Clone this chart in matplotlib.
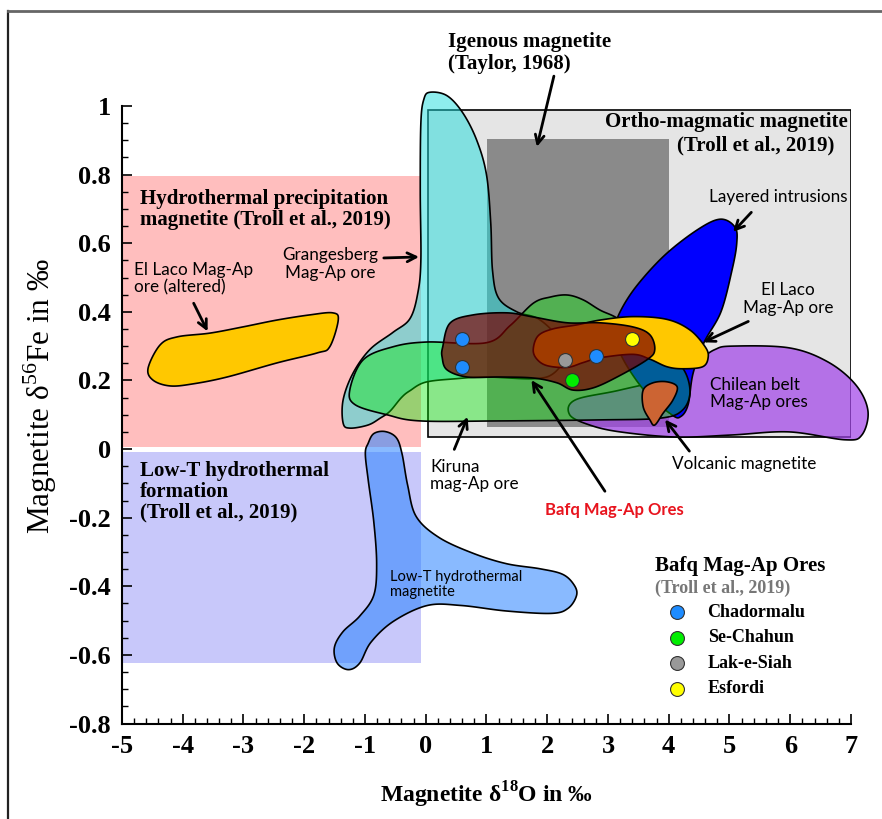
import numpy as np
import matplotlib
matplotlib.use("Agg")
import matplotlib.pyplot as plt
from matplotlib.patches import Polygon, Rectangle
from matplotlib.lines import Line2D
from matplotlib.ticker import MultipleLocator, FuncFormatter
from matplotlib.colors import to_rgba

plt.rcParams['font.family'] = 'Liberation Serif'
plt.rcParams['axes.unicode_minus'] = False
plt.rcParams['mathtext.fontset'] = 'custom'
plt.rcParams['mathtext.rm'] = 'Liberation Serif'
plt.rcParams['mathtext.bf'] = 'Liberation Serif:bold'

SANS = 'Lato'

# reference boxes (x0, y0, x1, y1) in d18O / d56Fe
hydro_box = [-5.0, 0.007, -0.085, 0.797]
lowt_box = [-5.0, -0.624, -0.085, -0.010]
ortho_box = [0.04, 0.035, 7.0, 0.989]
igneous_box = [1.01, 0.063, 4.01, 0.904]

# field outlines
grangesberg_x = [0.07, -0.03, -0.08, -0.09, -0.08, -0.13, -0.26, -0.54, -0.92, -1.20, -1.36, -1.36, -1.25,
                 -0.95, -0.75, -0.59, -0.40, -0.26, 0.0, 0.5, 1.0, 1.77, 2.10, 2.28, 2.15, 1.85, 1.50, 1.20,
                 1.10, 1.07, 1.00, 0.84, 0.61, 0.35]
grangesberg_y = [1.04, 1.02, 0.95, 0.75, 0.55, 0.455, 0.38, 0.34, 0.29, 0.22, 0.143, 0.076, 0.061,
                 0.07, 0.09, 0.11, 0.15, 0.17, 0.195, 0.205, 0.21, 0.205, 0.22, 0.27, 0.33, 0.38, 0.40, 0.44,
                 0.52, 0.66, 0.80, 0.90, 0.98, 1.03]

kiruna_x = [-1.25, -1.03, -0.54, 0.02, 1.0, 1.39, 1.77, 2.05, 2.33, 2.59, 2.87, 3.2, 3.69, 4.19, 4.35,
            4.23, 3.86, 2.87, 1.22, -0.09, -0.64, -1.16]
kiruna_y = [0.172, 0.26, 0.298, 0.312, 0.31, 0.36, 0.425, 0.443, 0.449, 0.435, 0.405, 0.376, 0.303, 0.245,
            0.172, 0.114, 0.09, 0.085, 0.082, 0.082, 0.10, 0.129]

layered_x = [5.09, 5.12, 5.04, 4.86, 4.58, 4.40, 4.32, 4.20, 4.05, 3.6, 3.2, 3.15, 3.2, 3.47, 3.94, 4.48, 4.85]
layered_y = [0.647, 0.60, 0.52, 0.40, 0.31, 0.22, 0.13, 0.095, 0.10, 0.17, 0.28, 0.36, 0.40, 0.475, 0.566,
             0.64, 0.67]

chilean_x = [2.46, 3.2, 4.19, 4.51, 4.76, 5.04, 5.98, 6.62, 7.08, 7.28, 7.18, 6.9, 5.98, 5.04, 4.12, 3.2,
             2.7, 2.37]
chilean_y = [0.143, 0.172, 0.216, 0.26, 0.29, 0.30, 0.295, 0.254, 0.187, 0.111, 0.041, 0.027, 0.05, 0.041,
             0.035, 0.05, 0.07, 0.10]

ellaco_x = [1.77, 1.85, 2.09, 2.49, 2.87, 3.41, 3.97, 4.35, 4.6, 4.65, 4.56, 4.23, 3.97, 3.69, 3.41, 2.87,
            2.59, 2.33, 2.0, 1.83]
ellaco_y = [0.29, 0.33, 0.35, 0.362, 0.376, 0.386, 0.378, 0.347, 0.298, 0.268, 0.24, 0.234, 0.24, 0.262,
            0.276, 0.266, 0.252, 0.238, 0.243, 0.262]

ellaco_alt_x = [-4.57, -4.37, -4.09, -3.55, -3.01, -2.45, -1.91, -1.53, -1.44, -1.58, -1.79, -2.45, -3.27,
                -3.83, -4.21, -4.49]
ellaco_alt_y = [0.236, 0.304, 0.327, 0.338, 0.356, 0.376, 0.391, 0.397, 0.376, 0.298, 0.28, 0.251, 0.21,
                0.19, 0.184, 0.201]

volcanic_x = [3.58, 3.74, 3.97, 4.14, 4.07, 3.91, 3.77, 3.69, 3.58]
volcanic_y = [0.172, 0.193, 0.196, 0.181, 0.143, 0.105, 0.07, 0.085, 0.123]

bafq_x = [0.28, 0.40, 0.78, 1.34, 1.77, 2.33, 2.87, 3.41, 3.69, 3.77, 3.64, 3.15, 2.75, 2.42, 2.16, 1.77,
          1.22, 0.68, 0.35, 0.27]
bafq_y = [0.298, 0.367, 0.391, 0.397, 0.385, 0.368, 0.368, 0.356, 0.333, 0.289, 0.26, 0.21, 0.178, 0.172,
          0.193, 0.207, 0.21, 0.21, 0.231, 0.268]

lowt_x = [-0.947, -0.855, -0.669, -0.484, -0.391, -0.298, -0.159, 0.212, 0.768, 1.325, 1.881, 2.252, 2.438,
          2.484, 2.345, 2.067, 1.325, 0.583, 0.027, -0.530, -0.901, -1.087, -1.272, -1.457, -1.504, -1.365,
          -1.087, -0.855, -0.808, -0.855, -0.947, -0.994]
lowt_y = [0.017, 0.045, 0.051, 0.033, -0.013, -0.105, -0.196, -0.257, -0.303, -0.334, -0.349, -0.365, -0.395,
          -0.426, -0.464, -0.479, -0.472, -0.456, -0.456, -0.502, -0.563, -0.624, -0.643, -0.624, -0.579,
          -0.533, -0.487, -0.426, -0.334, -0.212, -0.090, -0.013]

# Bafq samples (Troll et al., 2019)
sites = ['Chadormalu', 'Se-Chahun', 'Lak-e-Siah', 'Esfordi']
site_d18o = [[0.6, 0.6, 2.8], [2.4], [2.3], [3.4]]
site_d56fe = [[0.32, 0.24, 0.27], [0.20], [0.26], [0.32]]
site_colors = ['#1E8CFF', '#00EE00', '#999999', '#FFFF00']


def smooth_closed(xs, ys, n=24):
    # periodic Catmull-Rom through the outline vertices
    p = np.column_stack([xs, ys])
    p0, p1, p2, p3 = np.roll(p, 1, 0), p, np.roll(p, -1, 0), np.roll(p, -2, 0)
    t = np.linspace(0, 1, n, endpoint=False)[:, None, None]
    c = 0.5 * (2 * p1 + (p2 - p0) * t + (2 * p0 - 5 * p1 + 4 * p2 - p3) * t ** 2
               + (-p0 + 3 * p1 - 3 * p2 + p3) * t ** 3)
    return c.transpose(1, 0, 2).reshape(-1, 2)


def field(ax, xs, ys, color, alpha, z):
    poly = Polygon(smooth_closed(xs, ys), closed=True, facecolor=to_rgba(color, alpha),
                   edgecolor='black', lw=1.2, zorder=z, clip_on=False)
    ax.add_patch(poly)


def box(ax, b, z, **kw):
    ax.add_patch(Rectangle((b[0], b[1]), b[2] - b[0], b[3] - b[1], zorder=z, **kw))


fig = plt.figure(figsize=(8.82, 8.19), dpi=100)
ax = fig.add_axes([0.1383, 0.1166, 0.8265, 0.754])

box(ax, hydro_box, 1, facecolor='#FFBEBE', lw=0)
box(ax, lowt_box, 1, facecolor='#C8C8FA', lw=0)
box(ax, ortho_box, 1, facecolor='#E5E5E5', edgecolor='black', lw=1.2)
box(ax, igneous_box, 2, facecolor='#8A8A8A', lw=0)

field(ax, ellaco_alt_x, ellaco_alt_y, '#FFC800', 1.0, 3)
field(ax, lowt_x, lowt_y, '#2882FF', 0.55, 3)
field(ax, grangesberg_x, grangesberg_y, '#1EDCDC', 0.5, 3)
field(ax, chilean_x, chilean_y, '#A040E8', 0.7, 4)
field(ax, layered_x, layered_y, '#0000FF', 1.0, 5)
field(ax, kiruna_x, kiruna_y, '#00EB00', 0.4, 6)
field(ax, ellaco_x, ellaco_y, '#FFC800', 1.0, 7)
field(ax, volcanic_x, volcanic_y, '#CC6433', 1.0, 7)
field(ax, bafq_x, bafq_y, '#780000', 0.7, 8)

for xs, ys, c in zip(site_d18o, site_d56fe, site_colors):
    ax.plot(xs, ys, 'o', ms=10, mfc=c, mec='#333333', mew=0.8, ls='none', zorder=10)

# legend for the Bafq samples
ax.text(3.78, -0.342, 'Bafq Mag-Ap Ores', fontsize=15, fontweight='bold', va='center', zorder=11)
ax.text(3.78, -0.406, '(Troll et al., 2019)', fontsize=13, fontweight='bold', color='#777777',
        va='center', zorder=11)
for i, (name, c) in enumerate(zip(sites, site_colors)):
    yy = -0.476 - i * 0.074
    ax.plot([4.13], [yy], 'o', ms=10, mfc=c, mec='#333333', mew=0.8, zorder=11)
    ax.text(4.64, yy, name, fontsize=13, fontweight='bold', va='center', zorder=11)

# field labels
bold = dict(fontsize=15, fontweight='bold', zorder=11)
ax.text(0.37, 1.155, 'Igenous magnetite\n(Taylor, 1968)', ha='left', va='center', linespacing=1.1, **bold)
ax.text(6.94, 0.954, 'Ortho-magmatic magnetite', ha='right', va='center', **bold)
ax.text(6.73, 0.885, '(Troll et al., 2019)', ha='right', va='center', **bold)
ax.text(-4.70, 0.6975, 'Hydrothermal precipitation\nmagnetite (Troll et al., 2019)', ha='left', va='center',
        linespacing=1.05, **bold)
ax.text(-4.70, -0.124, 'Low-T hydrothermal\nformation\n(Troll et al., 2019)', ha='left', va='center',
        linespacing=1.05, **bold)

sans = dict(family=SANS, fontsize=12.3, zorder=11)
ax.text(-1.57, 0.539, 'Grangesberg\nMag-Ap ore', ha='center', va='center', linespacing=1.1, **sans)
ax.text(-4.81, 0.497, 'El Laco Mag-Ap\nore (altered)', ha='left', va='center', linespacing=1.1, **sans)
ax.text(4.66, 0.736, 'Layered intrusions', ha='left', va='center', **sans)
ax.text(5.96, 0.4375, 'El Laco\nMag-Ap ore', ha='center', va='center', linespacing=1.1, **sans)
ax.text(4.68, 0.1625, 'Chilean belt\nMag-Ap ores', ha='left', va='center', linespacing=1.1, **sans)
ax.text(4.06, -0.044, 'Volcanic magnetite', ha='left', va='center', **sans)
ax.text(0.07, -0.0765, 'Kiruna\nmag-Ap ore', ha='left', va='center', linespacing=1.1, **sans)
ax.text(-0.58, -0.3955, 'Low-T hydrothermal\nmagnetite', ha='left', va='center', linespacing=1.1,
        family=SANS, fontsize=10.5, zorder=11)
ax.text(3.11, -0.177, 'Bafq Mag-Ap Ores', ha='center', va='center', color='#E8141E', family=SANS,
        fontsize=12, fontweight='bold', zorder=11)

arrows = [((2.11, 1.087), (1.83, 0.881)),
          ((-0.69, 0.557), (-0.11, 0.560)),
          ((-3.82, 0.425), (-3.59, 0.343)),
          ((5.36, 0.69), (5.06, 0.633)),
          ((5.31, 0.372), (4.57, 0.311)),
          ((4.34, -0.006), (3.94, 0.086)),
          ((0.47, -0.001), (0.69, 0.094)),
          ((2.95, -0.123), (1.74, 0.201))]
for tail, tip in arrows:
    ax.annotate('', xy=tip, xytext=tail, annotation_clip=False, zorder=12,
                arrowprops=dict(arrowstyle='->', lw=2, color='black', mutation_scale=16,
                                shrinkA=0, shrinkB=0))

ax.set_xlim(-5, 7)
ax.set_ylim(-0.8, 1.0)
ax.spines['top'].set_visible(False)
ax.spines['right'].set_visible(False)
for s in ('left', 'bottom'):
    ax.spines[s].set_linewidth(1.5)
ax.xaxis.set_major_locator(MultipleLocator(1))
ax.xaxis.set_minor_locator(MultipleLocator(0.2))
ax.yaxis.set_major_locator(MultipleLocator(0.2))
ax.yaxis.set_minor_locator(MultipleLocator(0.05))
ax.yaxis.set_major_formatter(FuncFormatter(lambda v, p: f'{round(v, 2) + 0.0:g}'))
ax.tick_params(which='major', direction='in', length=7, width=1.2, labelsize=19, pad=8)
ax.tick_params(which='minor', direction='in', length=4, width=1.0)
for lab in ax.get_xticklabels() + ax.get_yticklabels():
    lab.set_fontweight('bold')

ax.set_xlabel(r'Magnetite δ$^{\mathbf{18}}$O in ‰', fontsize=17, fontweight='bold')
ax.set_ylabel(r'Magnetite δ$^{56}$Fe in ‰', fontsize=22.5)
ax.xaxis.set_label_coords(0.5, -0.116)
ax.xaxis.label.set_va('center')
ax.yaxis.set_label_coords(-0.112, 0.53)
ax.yaxis.label.set_va('center')

# page frame
fig.add_artist(Line2D([8 / 882, 8 / 882], [0, 1 - 11 / 819], color='#222222', lw=1.6))
fig.add_artist(Line2D([8 / 882, 1], [1 - 11 / 819, 1 - 11 / 819], color='#666666', lw=2))

fig.savefig('out.png', dpi=100)
